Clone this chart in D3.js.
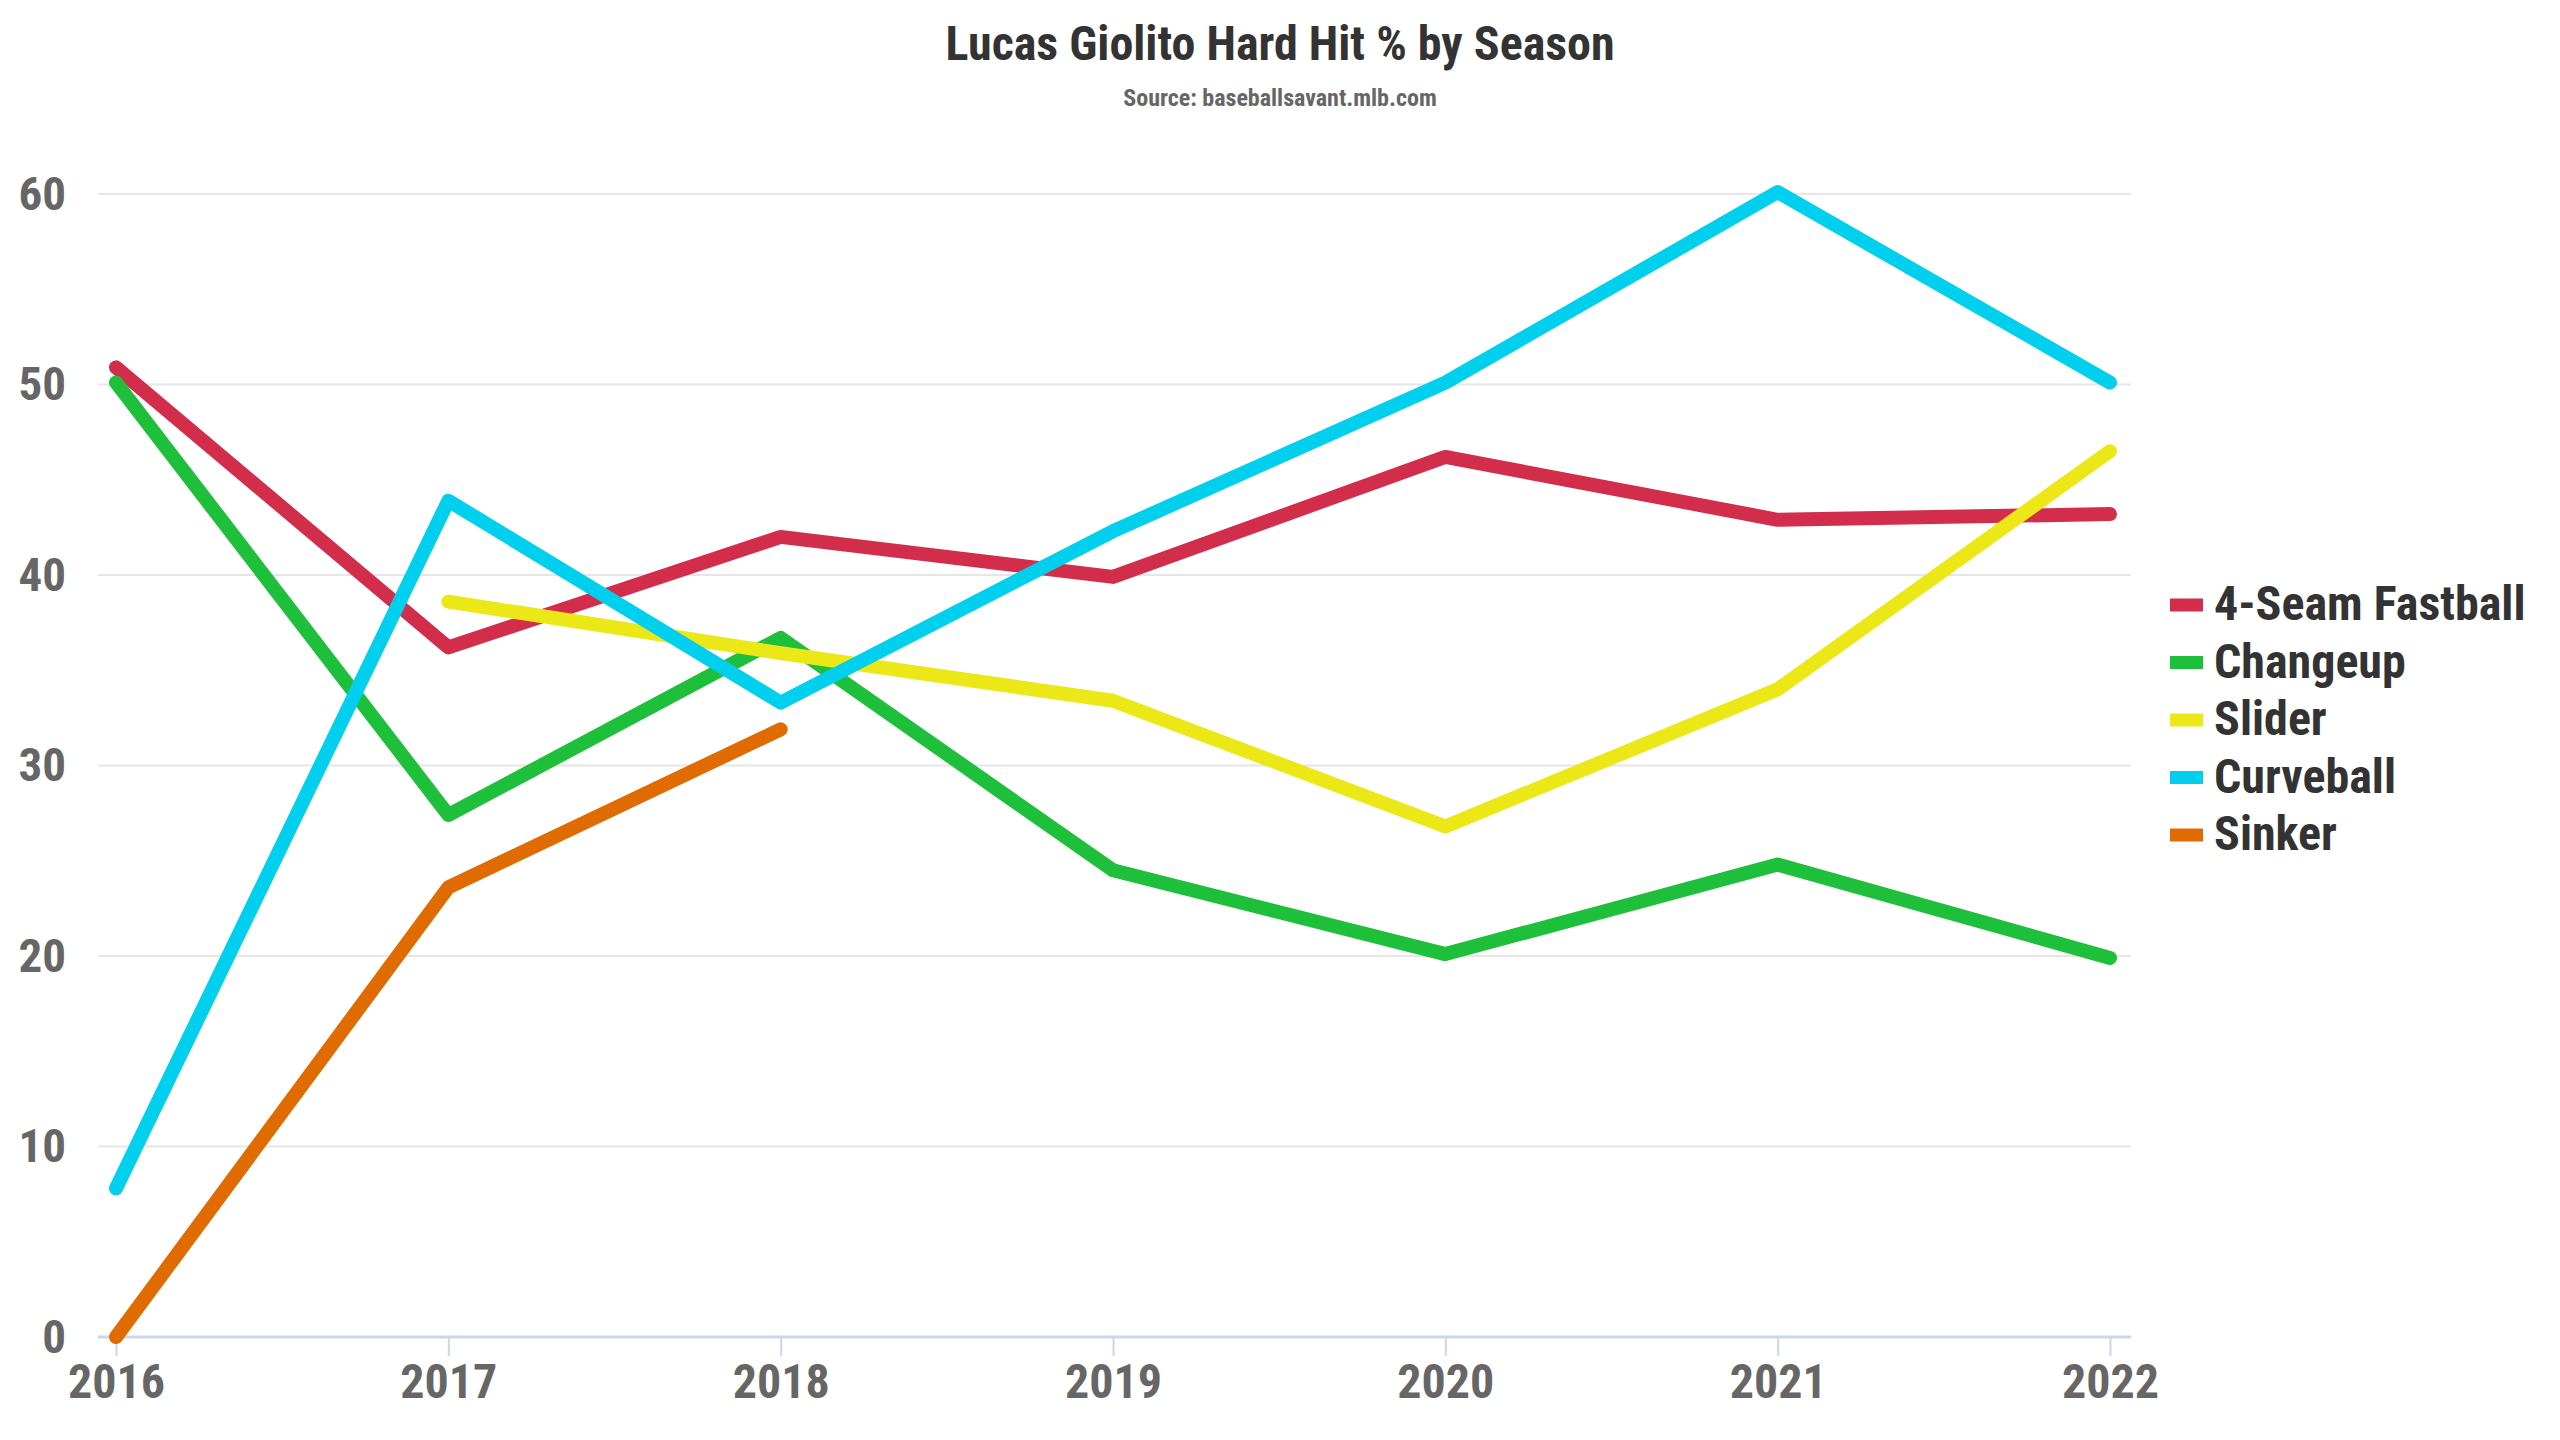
<!DOCTYPE html>
<html>
<head>
<meta charset="utf-8">
<script src="https://cdn.jsdelivr.net/npm/d3@7"></script>
<style>
  body { margin: 0; background: #fff; }
  text { font-family: "Roboto Condensed", "Roboto", sans-serif; font-stretch: condensed; font-weight: 700; }
</style>
</head>
<body>
<div id="chart"></div>
<script>
var svgWidth = 2560;
var svgHeight = 1440;

var margin = { top: 194, right: 450, bottom: 103, left: 116 };

// Data
var years = [2016, 2017, 2018, 2019, 2020, 2021, 2022];
var seriesNames = ["4-Seam Fastball", "Changeup", "Slider", "Curveball", "Sinker"];
var seriesColors = ["#d22d4b", "#1ebf3a", "#ece817", "#00d0ee", "#e06b00"];
var fastball = [50.9, 36.2, 42.0, 39.9, 46.2, 42.9, 43.2];
var changeup = [50.1, 27.4, 36.7, 24.5, 20.1, 24.8, 19.9];
var slider = [null, 38.6, 35.9, 33.4, 26.8, 34.0, 46.5];
var curveball = [7.8, 43.9, 33.3, 42.3, 50.1, 60.1, 50.1];
var sinker = [0, 23.6, 31.9, null, null, null, null];
var yTicks = [0, 10, 20, 30, 40, 50, 60];

var seriesValues = [fastball, changeup, slider, curveball, sinker];

var width = svgWidth - margin.left - margin.right;
var height = svgHeight - margin.top - margin.bottom;

var svg = d3.select("#chart")
  .append("svg")
  .attr("width", svgWidth)
  .attr("height", svgHeight);

// Title and subtitle
svg.append("text")
  .attr("x", 1280)
  .attr("y", 60)
  .attr("text-anchor", "middle")
  .attr("font-size", 48)
  .attr("fill", "#333333")
  .text("Lucas Giolito Hard Hit % by Season");

svg.append("text")
  .attr("x", 1280)
  .attr("y", 106)
  .attr("text-anchor", "middle")
  .attr("font-size", 24)
  .attr("fill", "#666666")
  .text("Source: baseballsavant.mlb.com");

var chartGroup = svg.append("g")
  .attr("transform", `translate(${margin.left}, ${margin.top})`);

var xScale = d3.scaleLinear()
  .domain([2016, 2022])
  .range([0, width]);

var yScale = d3.scaleLinear()
  .domain([0, 60])
  .range([height, 0]);

// Gridlines
chartGroup.append("g")
  .selectAll("line")
  .data(yTicks)
  .enter()
  .append("line")
  .attr("x1", -18)
  .attr("x2", width + 21)
  .attr("y1", d => yScale(d))
  .attr("y2", d => yScale(d))
  .attr("stroke", "#e6e6e6")
  .attr("stroke-width", 2);

// Y axis labels
var leftAxis = d3.axisLeft(yScale)
  .tickValues(yTicks)
  .tickSize(0)
  .tickPadding(50);

var yAxisG = chartGroup.append("g").call(leftAxis);
yAxisG.select(".domain").remove();
yAxisG.selectAll("text")
  .attr("font-size", 47)
  .attr("fill", "#666666")
  .attr("font-family", null);

// X axis
var bottomAxis = d3.axisBottom(xScale)
  .tickValues(years)
  .tickFormat(d3.format("d"))
  .tickSizeInner(19)
  .tickSizeOuter(0)
  .tickPadding(8);

var xAxisG = chartGroup.append("g")
  .attr("transform", `translate(0, ${height})`)
  .call(bottomAxis);
xAxisG.select(".domain")
  .attr("d", `M-18,0H${width + 21}`)
  .attr("stroke", "#ccd6eb")
  .attr("stroke-width", 3);
xAxisG.selectAll(".tick line")
  .attr("stroke", "#ccd6eb")
  .attr("stroke-width", 2);
xAxisG.selectAll("text")
  .attr("font-size", 48)
  .attr("fill", "#666666")
  .attr("font-family", null);

// Lines
var line = d3.line()
  .defined(d => d.value !== null)
  .x(d => xScale(d.year))
  .y(d => yScale(d.value));

seriesValues.forEach(function(values, i) {
  var points = years.map((y, j) => ({ year: y, value: values[j] }));
  chartGroup.append("path")
    .datum(points)
    .attr("fill", "none")
    .attr("stroke", seriesColors[i])
    .attr("stroke-width", 14)
    .attr("stroke-linejoin", "round")
    .attr("stroke-linecap", "round")
    .attr("d", line);
});

// Legend
var legend = svg.append("g")
  .attr("transform", "translate(2170, 605)");

var legendItems = legend.selectAll("g")
  .data(seriesNames)
  .enter()
  .append("g")
  .attr("transform", (d, i) => `translate(0, ${i * 57.5})`);

legendItems.append("rect")
  .attr("x", 0)
  .attr("y", -6.5)
  .attr("width", 33)
  .attr("height", 13)
  .attr("fill", (d, i) => seriesColors[i]);

legendItems.append("text")
  .attr("x", 44)
  .attr("y", 15)
  .attr("font-size", 48)
  .attr("fill", "#333333")
  .text(d => d);
</script>
</body>
</html>
